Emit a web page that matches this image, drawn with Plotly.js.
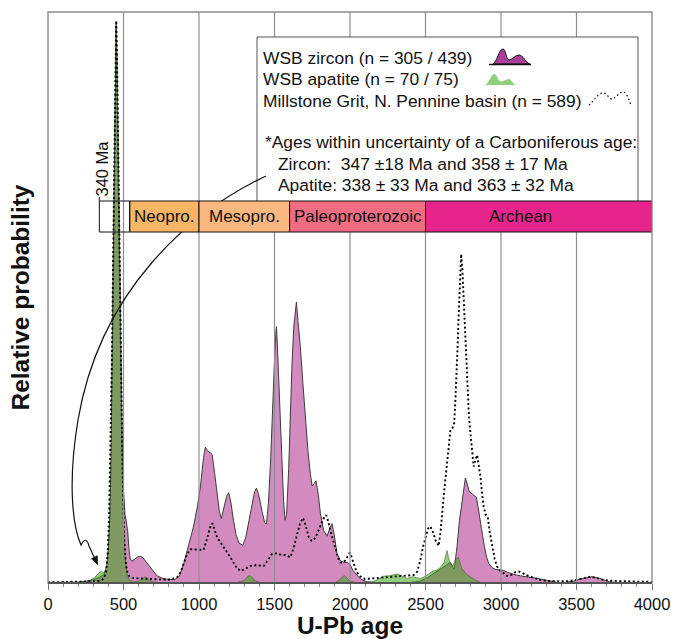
<!DOCTYPE html>
<html>
<head>
<meta charset="utf-8">
<script src="https://cdn.plot.ly/plotly-3.0.1.min.js"></script>
<style>
html,body{margin:0;padding:0;background:#fff;}
#chart{width:673px;height:639px;}
</style>
</head>
<body>
<div id="chart"></div>
<script>
// ---------------- DATA ----------------
const zirconAge = [0,100,200,250,300,340,370,390,400,410,418,425,432,440,446,451,456,462,470,478,485,492,500,510,520,528,536,545,555,570,590,610,630,650,670,695,720,760,800,840,870,900,930,963,990,1010,1030,1042,1055,1075,1087,1100,1120,1135,1148,1165,1183,1197,1212,1228,1245,1265,1290,1310,1330,1350,1368,1380,1395,1418,1435,1446,1460,1475,1488,1500,1508,1513,1520,1530,1540,1550,1560,1570,1580,1594,1605,1616,1628,1640,1645,1655,1671,1688,1705,1722,1738,1749,1762,1775,1790,1804,1825,1848,1865,1881,1895,1914,1935,1960,1985,2000,2020,2046,2070,2113,2200,2300,2400,2460,2511,2550,2590,2621,2650,2665,2680,2690,2700,2709,2725,2742,2755,2764,2775,2790,2809,2825,2837,2850,2864,2877,2890,2905,2919,2940,2963,2990,3018,3040,3062,3100,3140,3173,3220,3260,3320,3371,3420,3480,3526,3570,3604,3640,3680,3720,3780,4000];
const zirconProb = [0.1,0.1,0.15,0.3,0.6,1.0,1.5,3,6,12,22,40,58,78,92,98.3,93,80,64,52,38,24,16,12,10.5,9,6,4.2,3.8,4.1,4.5,4.7,4.4,3.7,3.0,2.0,1.3,0.8,0.6,0.6,1.2,3.5,6.5,9.8,13.5,17,22,23.8,23.2,22.8,22.5,20,16,12.5,11.3,13,15.2,15.8,14,11,8.5,7,6.6,8,11,14,16,16.6,15.5,12.5,10.6,10.3,14,22,32,39,43.5,44.9,41,34,27,20,14.5,11,12,20,30,38.5,45,49,49.2,46,41.4,35,28.5,23,19,17,17.4,17.9,15.5,12.2,9.2,8.2,9.5,10.4,8.5,5.2,3.9,3.6,3.6,3.2,2.2,1.4,0.7,0.2,0.05,0.05,0.1,0.3,0.9,1.6,2.3,2.9,3.4,3.6,2.8,2.4,4.5,6.4,11,14.6,17.5,18.4,17.5,16.0,15.6,15.3,15,13,11,8.5,6.4,4.5,3.4,2.7,2.4,2.3,2.2,1.9,1.7,1.4,1.2,1.1,0.9,0.7,0.35,0.1,0.1,0.3,0.7,1.0,1.1,0.9,0.5,0.2,0.05,0];

const apatiteAge = [0,200,250,280,310,335,354,368,380,390,400,410,418,425,432,440,446,451,456,462,470,478,485,492,500,508,515,525,540,570,600,625,645,665,690,750,1250,1300,1320,1336,1352,1375,1420,1900,1930,1950,1965,1980,2000,2050,2150,2180,2223,2270,2311,2340,2378,2411,2440,2466,2500,2544,2577,2605,2621,2635,2643,2652,2665,2676,2690,2703,2716,2730,2742,2770,2797,2830,2864,2950,4000];
const apatiteProb = [0,0.05,0.15,0.4,1.0,1.7,2.1,1.8,2.2,3.5,6,12,22,40,58,78,92,97.5,92,78,62,48,33,20,11,6,3.5,1.5,0.5,0.2,0.3,0.8,1.1,0.7,0.2,0.05,0.05,0.5,1.1,1.3,1.0,0.3,0.05,0.05,0.5,1.1,1.3,0.9,0.3,0.05,0.2,0.6,1.2,1.3,1.6,1.3,0.8,1.1,0.9,0.8,1.2,2.0,2.3,2.9,3.5,4.8,5.7,4.5,3.2,2.9,3.6,4.2,4.5,3.4,2.5,1.6,1.1,0.5,0.1,0,0];

const millAge = [0,150,250,300,350,370,385,395,405,415,425,433,441,447,452,457,463,471,480,488,495,503,512,522,535,560,600,650,700,760,810,855,880,899,920,943,965,987,1010,1030,1050,1064,1080,1090,1105,1120,1140,1164,1185,1208,1230,1250,1279,1310,1340,1380,1410,1430,1455,1484,1520,1545,1570,1605,1625,1650,1670,1689,1705,1727,1745,1760,1780,1804,1825,1842,1856,1870,1885,1903,1920,1937,1955,1970,1985,1998,2010,2025,2040,2058,2080,2100,2150,2200,2260,2311,2360,2400,2422,2445,2466,2485,2500,2518,2532,2550,2566,2587,2600,2610,2625,2643,2655,2665,2680,2690,2698,2705,2712,2720,2728,2736,2744,2753,2763,2775,2788,2802,2812,2819,2830,2842,2853,2864,2875,2885,2898,2912,2925,2941,2958,2974,2995,3018,3035,3051,3075,3095,3117,3140,3165,3195,3230,3260,3320,3391,3440,3490,3540,3591,3630,3670,3720,3800,3900,4000];
const millProb = [0.1,0.15,0.2,0.3,0.4,0.8,2,5,12,25,42,60,80,93,98.5,92,78,60,45,30,18,9,4.5,2.2,1.3,0.9,0.8,0.7,0.6,0.6,0.6,1.0,2.0,3.4,5,5.9,5.9,5.9,5.8,5.8,7.5,8.8,10.3,10.4,9.2,8.0,7.2,6.3,5.4,4.5,3.5,2.6,2.1,2.6,3.0,3.1,3.0,3.0,4.0,5.1,5.2,4.9,4.9,4.5,6,8.6,10.5,11.4,10.2,8.0,7.4,7.5,8.5,10.0,11.3,11.9,10.8,9.2,7.7,6.3,4.5,3.6,3.6,4.0,4.8,5.3,4.6,3.3,2.2,1.4,0.9,0.7,0.8,1.0,1.1,1.2,1.3,1.4,1.4,2.0,4.0,6.5,8.1,9.6,9.9,8.9,7.5,6.5,9,12.2,16.5,21.0,25,26.8,27.2,28,32,35.6,41,47.2,53,57.6,55,50.1,42,35.6,29,25,21.5,20.4,21.5,22.4,20.5,18.6,15.5,13.4,12,11.6,9,6.4,4.2,2.9,2.1,1.7,1.3,1.2,1.5,1.9,2.0,1.8,1.4,1.1,0.8,0.5,0.35,0.3,0.3,0.5,0.8,1.1,0.9,0.6,0.4,0.3,0.25,0.2];

const xTickVals = [0,500,1000,1500,2000,2500,3000,3500,4000];
const gridAges = [500,1000,1500,2000,2500,3000,3500];

const eraNames  = ['Neopro.','Mesopro.','Paleoproterozoic','Archean'];
const eraStart  = [541,1000,1600,2500];
const eraEnd    = [1000,1600,2500,4000];
const eraColors = ['#f9b566','#fab87f','#ef6c81','#e6248b'];
const carbAge = 340;

const legendLines = [
  'WSB zircon (n = 305 / 439)',
  'WSB apatite (n = 70 / 75)',
  'Millstone Grit, N. Pennine basin (n = 589)'
];
const noteLines = [
  '*Ages within uncertainty of a Carboniferous age:',
  'Zircon:\u00a0 347 \u00b118 Ma and 358 \u00b1 17 Ma',
  'Apatite: 338 \u00b1 33 Ma and 363 \u00b1 32 Ma'
];

// ---------------- LAYOUT HELPERS ----------------
const W = 673, H = 639;
const PL = 48, PR = 652, PT = 12, PB = 583;
function fx(px){ return (px-PL)/(PR-PL); }
function fy(py){ return (PB-py)/(PB-PT); }
function pathFrom(cmds){
  return cmds.map(c => {
    let s = c[0];
    for (let i=1;i<c.length;i+=2){ s += (i>1?' ':'') + fx(c[i]).toFixed(5) + ',' + fy(c[i+1]).toFixed(5); }
    return s;
  }).join(' ');
}
const FONT = 'Liberation Sans, Arial, Helvetica, sans-serif';

const traces = [
  { x: zirconAge, y: zirconProb, type:'scatter', mode:'lines', fill:'tozeroy',
    fillcolor:'#d38abf', line:{color:'#3c3c3c', width:1}, name:'WSB zircon' },
  { x: apatiteAge, y: apatiteProb, type:'scatter', mode:'lines', fill:'tozeroy',
    fillcolor:'rgba(61,167,26,0.57)', line:{color:'rgba(55,95,40,0.7)', width:0.8}, name:'WSB apatite' },
  { x: millAge, y: millProb, type:'scatter', mode:'lines',
    line:{color:'#000', width:1.9, dash:'2px,2.5px'}, name:'Millstone Grit' }
];

const shapes = [];
gridAges.forEach(a => shapes.push({type:'line', xref:'x', yref:'paper', x0:a, x1:a, y0:0, y1:1,
  line:{color:'#8f8f8f', width:1.2}, layer:'above'}));
shapes.push({type:'rect', xref:'paper', yref:'paper', x0:fx(257), x1:fx(638), y0:fy(202), y1:fy(37),
  fillcolor:'#fff', line:{color:'#555', width:1}, layer:'above'});
shapes.push({type:'path', xref:'paper', yref:'paper', layer:'above',
  path: pathFrom([['M',266,176],['C',190,212,100,290,78,420],['C',68,480,72,525,81,545],['Q',86,535,89,546],['L',95,559]]),
  line:{color:'#111', width:1.2}});
shapes.push({type:'path', xref:'paper', yref:'paper', layer:'above',
  path: pathFrom([['M',97.5,564.5],['L',97.3,555.8],['L',91.6,558.8],['Z']]),
  fillcolor:'#111', line:{color:'#111', width:0.8}});
const barY0 = fy(232), barY1 = fy(201);
eraNames.forEach((n,i) => shapes.push({type:'rect', xref:'x', yref:'paper', x0:eraStart[i], x1:eraEnd[i],
  y0:barY0, y1:barY1, fillcolor:eraColors[i], line:{color:'#111', width:1}, layer:'above'}));
shapes.push({type:'rect', xref:'x', yref:'paper', x0:carbAge, x1:eraStart[0], y0:barY0, y1:barY1,
  fillcolor:'rgba(0,0,0,0)', line:{color:'#111', width:1}, layer:'above'});
shapes.push({type:'line', xref:'x', yref:'paper', x0:carbAge, x1:carbAge, y0:barY1, y1:fy(197),
  line:{color:'#111', width:1}, layer:'above'});
// legend icons
shapes.push({type:'path', xref:'paper', yref:'paper', layer:'above',
  path: pathFrom([['M',493,64],['C',497,62,499,49,503,49],['C',506,49,506,60,509,60],['C',512,60,515,55,519,55],['C',523,55,526,63,530,64],['Z']]),
  fillcolor:'#a93f9b', line:{color:'#111', width:1}});
shapes.push({type:'line', xref:'paper', yref:'paper', layer:'above', x0:fx(489), x1:fx(531), y0:fy(64.5), y1:fy(64.5),
  line:{color:'#111', width:1.4}});
shapes.push({type:'path', xref:'paper', yref:'paper', layer:'above',
  path: pathFrom([['M',485,85],['C',489,84,491,74,494,74],['C',497,74,498,81.5,501,81.5],['C',504,81.5,506,79,509,79],['C',511,79,513,84,516,85],['Z']]),
  fillcolor:'#8fcf7e', line:{color:'rgba(0,0,0,0)', width:0}});
shapes.push({type:'path', xref:'paper', yref:'paper', layer:'above',
  path: pathFrom([['M',589,105],['C',594,101,598,93,603,93],['C',607,93,609,99,612,99],['C',615,99,619,92,623,92],['C',627,92,629,101,631,105]]),
  line:{color:'#111', width:1.3, dash:'1.5px,2.5px'}});
// frame
shapes.push({type:'rect', xref:'paper', yref:'paper', x0:0, x1:1, y0:0, y1:1,
  line:{color:'#8a8a8a', width:1.4}, layer:'above'});
shapes.push({type:'line', xref:'paper', yref:'paper', x0:0, x1:1, y0:0, y1:0,
  line:{color:'#555', width:2}, layer:'above'});

const annotations = [];
eraNames.forEach((n,i) => {
  const cx = (i === 3) ? 3130 : (eraStart[i]+eraEnd[i])/2;
  annotations.push({xref:'x', yref:'paper', x:cx, y:fy(216.5), text:n, showarrow:false,
    xanchor:'center', yanchor:'middle', font:{family:FONT, size:17, color:'#111'}});
});
annotations.push({xref:'paper', yref:'paper', x:fx(101.5), y:fy(169), text:carbAge + ' Ma', textangle:-90,
  showarrow:false, xanchor:'center', yanchor:'middle', font:{family:FONT, size:16.5, color:'#111'}});
const legY = [58.5, 79.5, 100.5];
legendLines.forEach((t,i) => annotations.push({xref:'paper', yref:'paper', x:fx(261), y:fy(legY[i]), text:t,
  showarrow:false, xanchor:'left', yanchor:'middle', font:{family:FONT, size:17.4, color:'#111'}}));
const noteY = [142, 163.5, 184.5];
const noteX = [263, 276, 276];
noteLines.forEach((t,i) => annotations.push({xref:'paper', yref:'paper', x:fx(noteX[i]), y:fy(noteY[i]), text:t,
  showarrow:false, xanchor:'left', yanchor:'middle', font:{family:FONT, size:17.4, color:'#111'}}));

const layout = {
  width: W, height: H,
  margin: {l:PL, r:W-PR, t:PT, b:H-PB},
  paper_bgcolor:'#fff', plot_bgcolor:'#fff',
  showlegend:false,
  font:{family:FONT, color:'#111'},
  xaxis: {
    range:[0,4000], tickvals:xTickVals, ticktext:xTickVals.map(String),
    ticks:'outside', ticklen:6, tickcolor:'#777', tickwidth:1,
    showgrid:false, zeroline:false, showline:false,
    tickfont:{family:FONT, size:16.5, color:'#111'},
    minor:{dtick:100, tick0:0, ticks:'outside', ticklen:3, tickcolor:'#888', showgrid:false},
    title:{text:'<b>U-Pb age</b>', font:{family:FONT, size:24.5, color:'#111'}, standoff:4}
  },
  yaxis: {
    range:[0,100], showticklabels:false, ticks:'', showgrid:false, zeroline:false, showline:false,
    title:{text:'<b>Relative probability</b>', font:{family:FONT, size:24.5, color:'#111'}, standoff:10}
  },
  shapes: shapes,
  annotations: annotations,
  hovermode:false
};

Plotly.newPlot('chart', traces, layout, {staticPlot:true, displayModeBar:false});
</script>
</body>
</html>
